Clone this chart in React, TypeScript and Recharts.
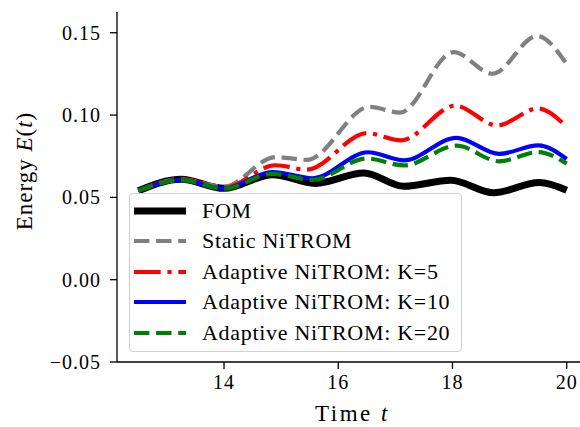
import React from 'react';
import { LineChart, Line, XAxis, YAxis, Legend } from 'recharts';

// ---- data ----
const fomT = [12.5, 13.25, 14.0, 14.85, 15.6, 16.45, 17.15, 17.97, 18.72, 19.52, 20.0];
const fomE = [0.054, 0.061, 0.0555, 0.0638, 0.0585, 0.0648, 0.0567, 0.0604, 0.0528, 0.059, 0.0543];

const staticT = [12.5, 13.25, 14.0, 14.9, 15.45, 16.55, 17.08, 18.02, 18.7, 19.48, 20.0];
const staticE = [0.054, 0.061, 0.0565, 0.0745, 0.0728, 0.105, 0.1015, 0.1382, 0.1251, 0.148, 0.131];

const k5T = [12.5, 13.25, 14.0, 14.9, 15.45, 16.5, 17.1, 18.05, 18.78, 19.5, 20.0];
const k5E = [0.054, 0.061, 0.0558, 0.0695, 0.0668, 0.089, 0.0846, 0.1057, 0.0937, 0.104, 0.0928];

const k10T = [12.5, 13.25, 14.0, 14.85, 15.55, 16.52, 17.15, 18.07, 18.82, 19.5, 20.0];
const k10E = [0.054, 0.0605, 0.0553, 0.0654, 0.0616, 0.0774, 0.0725, 0.0862, 0.0764, 0.0816, 0.0733];

const k20T = [12.5, 13.25, 14.0, 14.85, 15.55, 16.5, 17.15, 18.07, 18.82, 19.5, 20.0];
const k20E = [0.054, 0.0605, 0.0553, 0.0643, 0.0606, 0.0736, 0.0694, 0.0814, 0.0719, 0.0775, 0.0705];

const xTicks = [14, 16, 18, 20];
const yTicks = [-0.05, 0.0, 0.05, 0.1, 0.15];

const seriesNames = [
  'FOM',
  'Static NiTROM',
  'Adaptive NiTROM: K=5',
  'Adaptive NiTROM: K=10',
  'Adaptive NiTROM: K=20',
];

const zip = (ts: number[], es: number[]) => ts.map((t, i) => ({ t, e: es[i] }));

const FONT = 'Liberation Serif';

const styles = [
  { color: '#000000', width: 7, dash: undefined as string | undefined },
  { color: '#808080', width: 4.2, dash: '15.4 6.7' },
  { color: '#ff0000', width: 4.2, dash: '26.7 6.7 4.2 6.7' },
  { color: '#0000ff', width: 4.2, dash: undefined },
  { color: '#008000', width: 4.2, dash: '15.4 6.7' },
];

const seriesData = [
  zip(fomT, fomE),
  zip(staticT, staticE),
  zip(k5T, k5E),
  zip(k10T, k10E),
  zip(k20T, k20E),
];

const fmtY = (v: number) => (v < 0 ? '\u2212' + Math.abs(v).toFixed(2) : v.toFixed(2));

const LegendBox = () => (
  <div
    style={{
      position: 'absolute',
      left: 129,
      top: 193,
      width: 333,
      height: 159,
      boxSizing: 'border-box',
      border: '1px solid #d0d0d0',
      borderRadius: 4,
      background: 'rgba(255,255,255,0.8)',
      fontFamily: FONT,
      fontSize: 22,
      color: '#000',
    }}
  >
    {seriesNames.map((name, i) => (
      <div
        key={name}
        style={{
          position: 'absolute',
          left: 0,
          top: 2 + i * 30.4,
          height: 30,
          display: 'flex',
          alignItems: 'center',
          whiteSpace: 'nowrap',
        }}
      >
        <svg width={66} height={30} style={{ display: 'block' }}>
          <line
            x1={4}
            x2={56}
            y1={15}
            y2={15}
            stroke={styles[i].color}
            strokeWidth={styles[i].width}
            strokeDasharray={styles[i].dash}
          />
        </svg>
        <span style={{ marginLeft: 6, fontFamily: FONT, fontSize: 22, letterSpacing: 0.7 }}>{name}</span>
      </div>
    ))}
  </div>
);

const XTick = (props: any) => {
  const { x, y, payload } = props;
  return (
    <text x={x} y={y + 14} textAnchor="middle" fontFamily={FONT} fontSize={20} letterSpacing={1} fill="#000">
      {String(payload.value)}
    </text>
  );
};

const YTick = (props: any) => {
  const { x, y, payload } = props;
  return (
    <text x={x + 1} y={y + 7} textAnchor="end" fontFamily={FONT} fontSize={20} letterSpacing={1} fill="#000">
      {fmtY(payload.value)}
    </text>
  );
};

const XLabel = (props: any) => {
  const { viewBox } = props;
  const cx = viewBox.x + viewBox.width / 2 + 4;
  return (
    <text x={cx} y={421} textAnchor="middle" fontFamily={FONT} fontSize={23} letterSpacing={2.5} fill="#000">
      Time <tspan fontStyle="italic">t</tspan>
    </text>
  );
};

const YLabel = () => (
  <text
    x={0}
    y={0}
    transform="translate(32,171) rotate(-90)"
    textAnchor="middle"
    fontFamily={FONT}
    fontSize={23}
    letterSpacing={1}
    fill="#000"
  >
    Energy <tspan fontStyle="italic">E</tspan>(<tspan fontStyle="italic">t</tspan>)
  </text>
);

export default function App() {
  return (
    <div style={{ position: 'absolute', left: 0, top: 0, width: 580, height: 427, background: '#fff' }}>
      <LineChart width={580} height={427} margin={{ top: 12, right: 0, bottom: 0, left: 0 }}>
        <XAxis
          type="number"
          dataKey="t"
          domain={[12.126, 20.233]}
          allowDataOverflow
          ticks={xTicks}
          height={65}
          tickSize={7}
          tickMargin={6}
          stroke="#000"
          tick={<XTick />}
          axisLine={{ stroke: '#000', strokeWidth: 1.3 }}
          tickLine={{ stroke: '#000', strokeWidth: 1.3 }}
          label={<XLabel />}
        />
        <YAxis
          type="number"
          dataKey="e"
          domain={[-0.05, 0.1626]}
          allowDataOverflow
          ticks={yTicks}
          width={117}
          tickSize={7}
          tickMargin={10}
          stroke="#000"
          tick={<YTick />}
          axisLine={{ stroke: '#000', strokeWidth: 1.3 }}
          tickLine={{ stroke: '#000', strokeWidth: 1.3 }}
          label={<YLabel />}
        />
        {seriesData.map((d, i) => (
          <Line
            key={seriesNames[i]}
            data={d}
            dataKey="e"
            name={seriesNames[i]}
            type="monotone"
            stroke={styles[i].color}
            strokeWidth={styles[i].width}
            strokeDasharray={styles[i].dash}
            dot={false}
            activeDot={false}
            isAnimationActive={false}
          />
        ))}
        <Legend
          layout="horizontal"
          verticalAlign="middle"
          align="center"
          wrapperStyle={{ left: 0, top: 0, width: 0, height: 0 }}
          content={() => <LegendBox />}
        />
      </LineChart>
    </div>
  );
}
